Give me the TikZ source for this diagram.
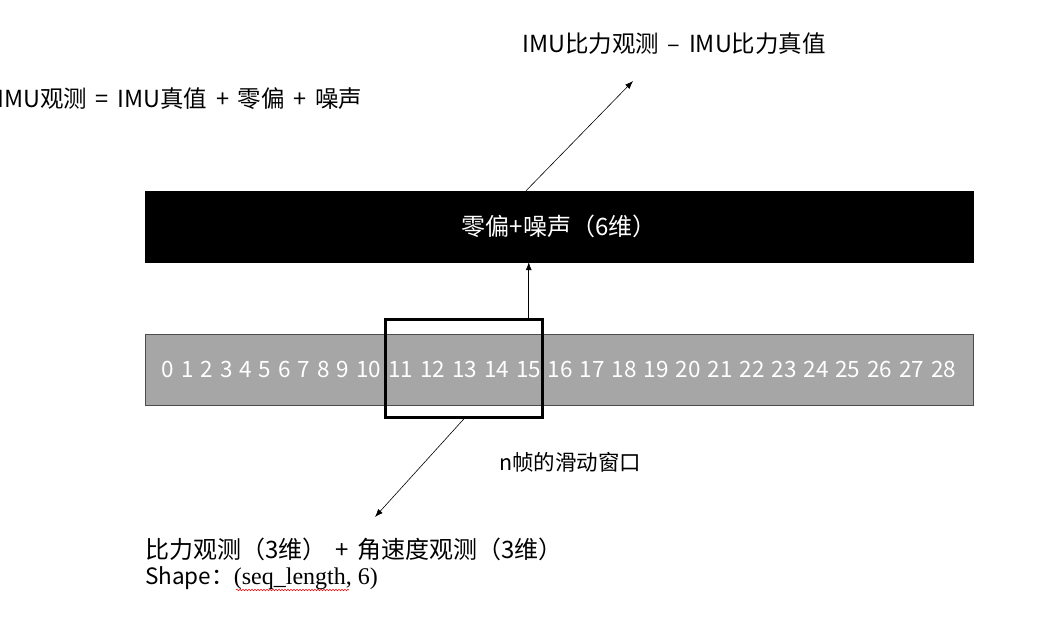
\documentclass[tikz,border=0pt]{standalone}
\usepackage{fontspec}
\setmainfont{Noto Sans CJK SC}
\newfontfamily\seriffont{Liberation Serif}
\usetikzlibrary{arrows.meta,decorations.pathmorphing}
\newcommand\numgap{\spaceskip=0.31em\relax}
\newcommand\lblgap{\spaceskip=0.37em\relax}
\tikzstyle{blackbar}=[shape=rectangle, fill=black, draw=black, minimum width=828pt, minimum height=71pt, inner sep=0, text=white, font=\fontsize{24}{28}\selectfont]
\tikzstyle{graybar}=[shape=rectangle, fill=gray!70, draw=black!70, minimum width=828pt, minimum height=71pt, inner sep=0, text=white, font=\fontsize{22.5}{27}\selectfont]
\tikzstyle{window}=[shape=rectangle, draw=black, line width=2.5pt, minimum width=157pt, minimum height=98pt, inner sep=0]
\tikzstyle{lbl}=[inner sep=0, font=\fontsize{23.5}{28}\selectfont]
\tikzstyle{arr}=[-{Latex[length=8pt,width=6pt]}, line width=0.6pt]

\begin{document}
\begin{tikzpicture}[x=1pt,y=-1pt]
\useasboundingbox (0,0) rectangle (1053,620);
\node[graybar] (seq) at (559,369.5) {\numgap 0 1 2 3 4 5 6 7 8 9 10 11 12 13 14 15 16 17 18 19 20 21 22 23 24 25 26 27 28};
\node[blackbar] (noise) at (559,226.5) {零偏+噪声（6维）};
\node[window] (win) at (464,368.5) {};
\node[lbl, anchor=west] (diff) at (522,44) {\lblgap IMU比力观测 – IMU比力真值};
\node[lbl, anchor=west] (model) at (-3,99) {\lblgap IMU观测 = IMU真值 + 零偏 + 噪声};
\node[lbl, anchor=west, font=\fontsize{21.5}{26}\selectfont] (wname) at (499,462) {n帧的滑动窗口};
\node[lbl, anchor=west, font=\fontsize{24}{28}\selectfont] (feat) at (145,549) {\lblgap 比力观测（3维） + 角速度观测（3维）};
\node[lbl, anchor=west, font=\fontsize{22.5}{27}\selectfont] (shape) at (145,578) {Shape：{\seriffont\fontsize{24}{28}\selectfont (seq\_length, 6)}};
\coordinate (up) at (633,81);
\coordinate (dn) at (375,517);
\draw[arr] ([xshift=-15pt]win.north east) -- ([xshift=-15pt]win.north east |- noise.south);
\draw[arr] ([xshift=-33pt]noise.north) -- (up);
\draw[arr] (win.south) -- (dn);
\draw[red, line width=0.5pt, decorate, decoration={snake, amplitude=0.8pt, segment length=3pt}] (236,590) -- (349,590);
\end{tikzpicture}
\end{document}
